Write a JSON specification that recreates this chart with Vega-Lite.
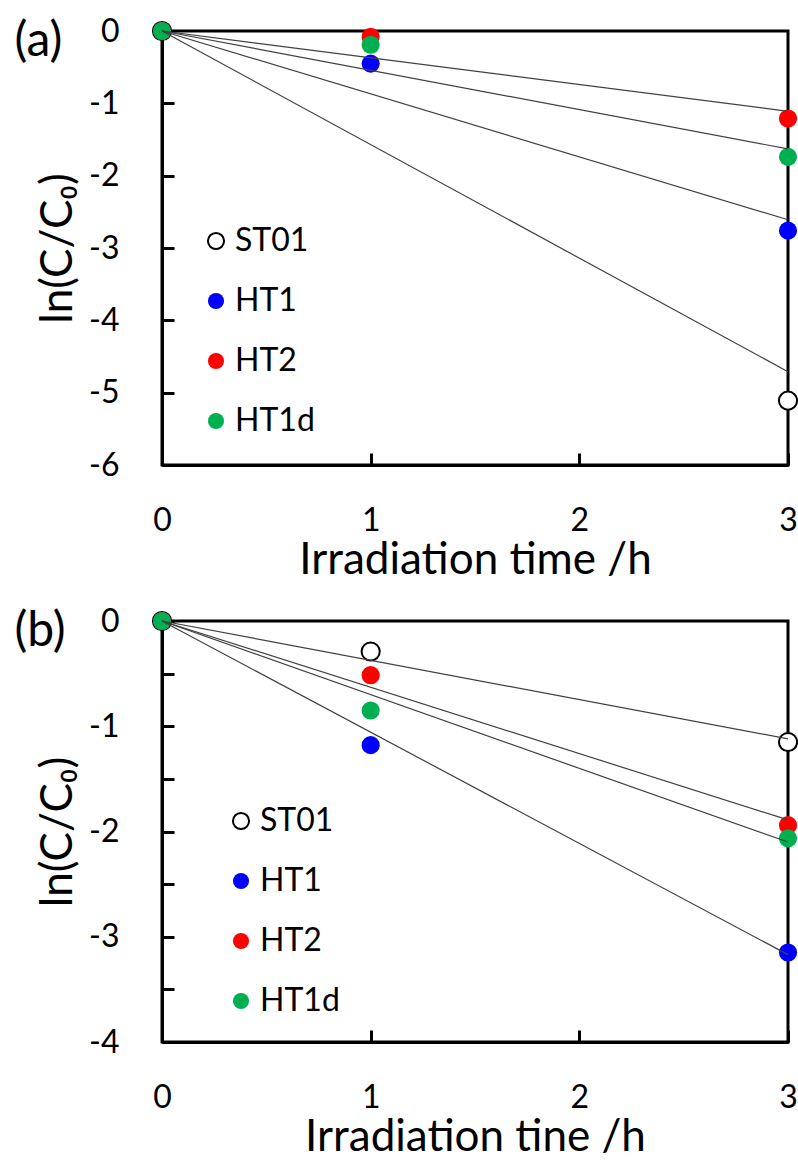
{
  "$schema": "https://vega.github.io/schema/vega-lite/v6.json",
  "background": "white",
  "padding": {"left": 13, "top": 13, "right": 0, "bottom": 0},
  "datasets": {
    "points": [
      {"panel": "a", "series": "ST01", "t": 0, "v": 0},
      {"panel": "a", "series": "ST01", "t": 3, "v": -5.11},
      {"panel": "a", "series": "HT1", "t": 0, "v": 0},
      {"panel": "a", "series": "HT1", "t": 1, "v": -0.45},
      {"panel": "a", "series": "HT1", "t": 3, "v": -2.76},
      {"panel": "a", "series": "HT2", "t": 0, "v": 0},
      {"panel": "a", "series": "HT2", "t": 1, "v": -0.08},
      {"panel": "a", "series": "HT2", "t": 3, "v": -1.21},
      {"panel": "a", "series": "HT1d", "t": 0, "v": 0},
      {"panel": "a", "series": "HT1d", "t": 1, "v": -0.19},
      {"panel": "a", "series": "HT1d", "t": 3, "v": -1.74},
      {"panel": "b", "series": "ST01", "t": 0, "v": 0},
      {"panel": "b", "series": "ST01", "t": 1, "v": -0.29},
      {"panel": "b", "series": "ST01", "t": 3, "v": -1.15},
      {"panel": "b", "series": "HT1", "t": 0, "v": 0},
      {"panel": "b", "series": "HT1", "t": 1, "v": -1.18},
      {"panel": "b", "series": "HT1", "t": 3, "v": -3.15},
      {"panel": "b", "series": "HT2", "t": 0, "v": 0},
      {"panel": "b", "series": "HT2", "t": 1, "v": -0.515},
      {"panel": "b", "series": "HT2", "t": 3, "v": -1.94},
      {"panel": "b", "series": "HT1d", "t": 0, "v": 0},
      {"panel": "b", "series": "HT1d", "t": 1, "v": -0.85},
      {"panel": "b", "series": "HT1d", "t": 3, "v": -2.065}
    ],
    "fits": [
      {"panel": "a", "series": "ST01", "t": 0, "v": 0},
      {"panel": "a", "series": "ST01", "t": 3, "v": -4.71},
      {"panel": "a", "series": "HT1", "t": 0, "v": 0},
      {"panel": "a", "series": "HT1", "t": 3, "v": -2.61},
      {"panel": "a", "series": "HT2", "t": 0, "v": 0},
      {"panel": "a", "series": "HT2", "t": 3, "v": -1.11},
      {"panel": "a", "series": "HT1d", "t": 0, "v": 0},
      {"panel": "a", "series": "HT1d", "t": 3, "v": -1.63},
      {"panel": "b", "series": "ST01", "t": 0, "v": 0},
      {"panel": "b", "series": "ST01", "t": 3, "v": -1.12},
      {"panel": "b", "series": "HT1", "t": 0, "v": 0},
      {"panel": "b", "series": "HT1", "t": 3, "v": -3.17},
      {"panel": "b", "series": "HT2", "t": 0, "v": 0},
      {"panel": "b", "series": "HT2", "t": 3, "v": -1.89},
      {"panel": "b", "series": "HT1d", "t": 0, "v": 0},
      {"panel": "b", "series": "HT1d", "t": 3, "v": -2.10}
    ]
  },
  "vconcat": [
    {
      "width": 626,
      "height": 434,
      "title": {"text": "(a)", "anchor": "start", "frame": "bounds", "fontSize": 48, "font": "Lato", "fontWeight": "normal", "color": "black", "dx": -22, "dy": 51, "offset": 0},
      "layer": [
        {
          "data": {"name": "points"},
          "transform": [{"filter": "datum.panel === 'a'"}],
          "mark": {"type": "point", "shape": "circle", "filled": false, "size": 330, "strokeWidth": 2, "opacity": 1},
          "encoding": {
            "x": {"field": "t", "type": "quantitative", "scale": {"domain": [0, 3], "nice": false}, "axis": {"values": [0, 1, 2, 3], "title": "Irradiation time /h", "labelExpr": "'' + datum.value"}},
            "y": {"field": "v", "type": "quantitative", "scale": {"domain": [-6, 0], "nice": false}, "axis": {"values": [-6, -5, -4, -3, -2, -1, 0], "title": "ln(C/C₀)", "labelExpr": "'' + datum.value"}},
            "fill": {"field": "series", "type": "nominal", "scale": {"domain": ["ST01", "HT1", "HT2", "HT1d"], "range": ["#ffffff", "#0000ff", "#ff0000", "#00b050"]}, "legend": {"title": null, "orient": "none", "legendX": 38, "legendY": 194}},
            "stroke": {"field": "series", "type": "nominal", "scale": {"domain": ["ST01", "HT1", "HT2", "HT1d"], "range": ["#000000", "transparent", "transparent", "transparent"]}, "legend": {"title": null, "orient": "none", "legendX": 38, "legendY": 194}}
          }
        },
        {
          "data": {"name": "fits"},
          "transform": [{"filter": "datum.panel === 'a'"}],
          "mark": {"type": "line", "color": "#404040", "strokeWidth": 1.2},
          "encoding": {
            "x": {"field": "t", "type": "quantitative"},
            "y": {"field": "v", "type": "quantitative"},
            "detail": {"field": "series", "type": "nominal"}
          }
        }
      ],
      "resolve": {"scale": {"fill": "independent", "stroke": "independent"}}
    },
    {
      "width": 626,
      "height": 421,
      "title": {"text": "(b)", "anchor": "start", "frame": "bounds", "fontSize": 48, "font": "Lato", "fontWeight": "normal", "color": "black", "dx": -22, "dy": 51, "offset": 0},
      "layer": [
        {
          "data": {"name": "points"},
          "transform": [{"filter": "datum.panel === 'b'"}],
          "mark": {"type": "point", "shape": "circle", "filled": false, "size": 330, "strokeWidth": 2, "opacity": 1},
          "encoding": {
            "x": {"field": "t", "type": "quantitative", "scale": {"domain": [0, 3], "nice": false}, "axis": {"values": [0, 1, 2, 3], "title": "Irradiation tine /h", "labelExpr": "'' + datum.value"}},
            "y": {"field": "v", "type": "quantitative", "scale": {"domain": [-4, 0], "nice": false}, "axis": {"values": [-4, -3.5, -3, -2.5, -2, -1.5, -1, -0.5, 0], "title": "ln(C/C₀)", "labelExpr": "datum.value % 1 == 0 ? '' + datum.value : ''"}},
            "fill": {"field": "series", "type": "nominal", "scale": {"domain": ["ST01", "HT1", "HT2", "HT1d"], "range": ["#ffffff", "#0000ff", "#ff0000", "#00b050"]}, "legend": {"title": null, "orient": "none", "legendX": 63, "legendY": 184}},
            "stroke": {"field": "series", "type": "nominal", "scale": {"domain": ["ST01", "HT1", "HT2", "HT1d"], "range": ["#000000", "transparent", "transparent", "transparent"]}, "legend": {"title": null, "orient": "none", "legendX": 63, "legendY": 184}}
          }
        },
        {
          "data": {"name": "fits"},
          "transform": [{"filter": "datum.panel === 'b'"}],
          "mark": {"type": "line", "color": "#404040", "strokeWidth": 1.2},
          "encoding": {
            "x": {"field": "t", "type": "quantitative"},
            "y": {"field": "v", "type": "quantitative"},
            "detail": {"field": "series", "type": "nominal"}
          }
        }
      ],
      "resolve": {"scale": {"fill": "independent", "stroke": "independent"}}
    }
  ],
  "resolve": {"scale": {"fill": "independent", "stroke": "independent"}, "legend": {"fill": "independent", "stroke": "independent"}},
  "spacing": 19,
  "config": {
    "font": "Lato",
    "view": {"stroke": "black", "strokeWidth": 3},
    "axis": {
      "grid": false,
      "domainColor": "black",
      "domainWidth": 3,
      "tickColor": "black",
      "tickWidth": 3,
      "tickSize": -12,
      "labelPadding": 55,
      "labelFont": "Lato",
      "labelFontSize": 32,
      "labelColor": "black",
      "titleFont": "Lato",
      "titleFontSize": 44,
      "titleFontWeight": "normal",
      "titleColor": "black",
      "labelFlush": false,
      "labelOverlap": false
    },
    "axisX": {"labelPadding": 52, "titlePadding": 2},
    "axisY": {"titlePadding": 8},
    "legend": {
      "labelFont": "Lato",
      "labelFontSize": 32,
      "labelColor": "black",
      "symbolSize": 260,
      "symbolStrokeWidth": 2,
      "symbolType": "circle",
      "rowPadding": 28,
      "labelOffset": 3
    }
  }
}
